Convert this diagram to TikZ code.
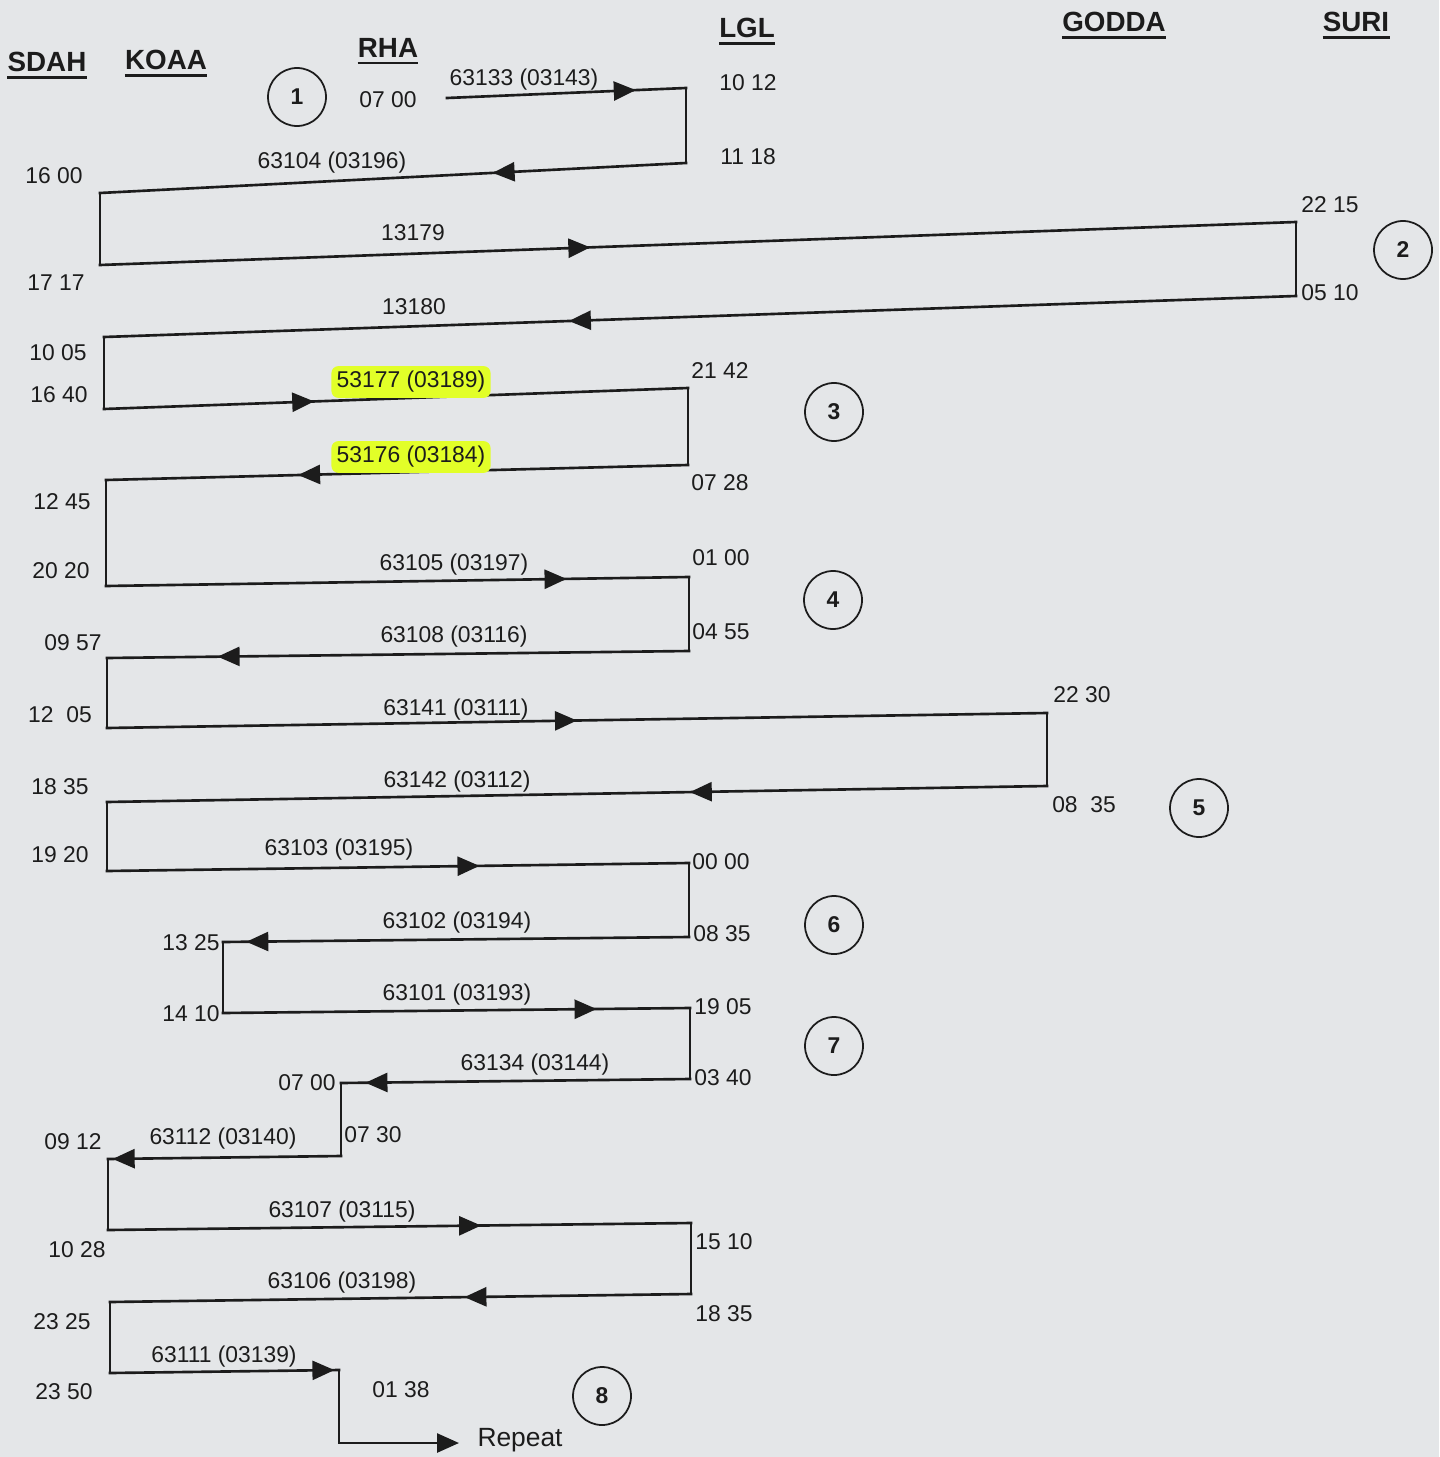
\documentclass[tikz,border=0pt]{standalone}
\usepackage{fontspec}
\setmainfont{Liberation Sans}
\usetikzlibrary{decorations.markings}
\usetikzlibrary{arrows.meta}

\definecolor{paper}{RGB}{228,230,232}
\definecolor{ink}{RGB}{28,28,28}
\definecolor{marker}{RGB}{226,255,40}

\begin{document}
\begin{tikzpicture}[x=0.2mm, y=-0.2mm]

% Define styles
\tikzset{
    trainline/.style={draw=ink, line width=1.5pt, line cap=rect, postaction={decorate}, decoration={markings}},
    arrow/.style={decoration={mark=at position #1 with {\arrow{Triangle[length=4.4mm, width=3.8mm]}}}},
    station/.style={font=\fontsize{15.8}{18}\selectfont\bfseries, text=ink, inner xsep=0pt, inner ysep=3pt,
        append after command={(\tikzlastnode.south west) edge[draw=ink, line width=1.5pt] (\tikzlastnode.south east)}},
    clock/.style={font=\fontsize{13}{15}\selectfont, text=ink, inner sep=1pt},
    trainno/.style={font=\fontsize{13}{15}\selectfont, text=ink, inner sep=1pt},
    marked/.style={trainno, fill=marker, rounded corners=4pt, inner xsep=3pt, inner ysep=3pt},
    rakeno/.style={circle, draw=ink, line width=1pt, minimum size=11.6mm, inner sep=0pt, font=\fontsize{13}{15}\selectfont\bfseries, text=ink}
}

% paper
\fill[paper] (0,0) rectangle (1439,1457);
\useasboundingbox (0,0) rectangle (1439,1457);

% stations
\node[station] (SDAH) at (47,62) {SDAH};
\node[station] (KOAA) at (166,60) {KOAA};
\node[station] (RHA) at (388,48) {RHA};
\node[station] (LGL) at (747,28) {LGL};
\node[station] (GODDA) at (1114,22) {GODDA};
\node[station] (SURI) at (1356,22) {SURI};

% corners of the link
\coordinate (start) at (447,98);
\coordinate (lgl1012) at (686,88);
\coordinate (lgl1118) at (686,163);
\coordinate (sdah1600) at (100,193);
\coordinate (sdah1717) at (100,265);
\coordinate (suri2215) at (1296,222);
\coordinate (suri0510) at (1296,296);
\coordinate (sdah1005) at (104,337);
\coordinate (sdah1640) at (104,409);
\coordinate (lgl2142) at (688,388);
\coordinate (lgl0728) at (688,465);
\coordinate (sdah1245) at (106,480);
\coordinate (sdah2020) at (106,586);
\coordinate (lgl0100) at (689,577);
\coordinate (lgl0455) at (689,651);
\coordinate (sdah0957) at (107,658);
\coordinate (sdah1205) at (107,728);
\coordinate (godda2230) at (1047,713);
\coordinate (godda0835) at (1047,786);
\coordinate (sdah1835) at (107,802);
\coordinate (sdah1920) at (107,871);
\coordinate (lgl0000) at (689,863);
\coordinate (lgl0835) at (689,937);
\coordinate (koaa1325) at (223,942);
\coordinate (koaa1410) at (223,1013);
\coordinate (lgl1905) at (690,1008);
\coordinate (lgl0340) at (690,1079);
\coordinate (mid0700) at (341,1083);
\coordinate (mid0730) at (341,1156);
\coordinate (sdah0912) at (108,1159);
\coordinate (sdah1028) at (108,1230);
\coordinate (lgl1510) at (691,1223);
\coordinate (lgl1835) at (691,1294);
\coordinate (sdah2325) at (110,1302);
\coordinate (sdah2350) at (110,1373);
\coordinate (rha0138) at (339,1370);
\coordinate (rhaturn) at (339,1443);
\coordinate (rptend) at (459,1443);

% trains
\draw[trainline, arrow=0.79] (start) -- (lgl1012);
\draw[trainline] (lgl1012) -- (lgl1118);
\draw[trainline, arrow=0.33] (lgl1118) -- (sdah1600);
\draw[trainline] (sdah1600) -- (sdah1717);
\draw[trainline, arrow=0.41] (sdah1717) -- (suri2215);
\draw[trainline] (suri2215) -- (suri0510);
\draw[trainline, arrow=0.61] (suri0510) -- (sdah1005);
\draw[trainline] (sdah1005) -- (sdah1640);
\draw[trainline, arrow=0.36] (sdah1640) -- (lgl2142);
\draw[trainline] (lgl2142) -- (lgl0728);
\draw[trainline, arrow=0.67] (lgl0728) -- (sdah1245);
\draw[trainline] (sdah1245) -- (sdah2020);
\draw[trainline, arrow=0.79] (sdah2020) -- (lgl0100);
\draw[trainline] (lgl0100) -- (lgl0455);
\draw[trainline, arrow=0.81] (lgl0455) -- (sdah0957);
\draw[trainline] (sdah0957) -- (sdah1205);
\draw[trainline, arrow=0.50] (sdah1205) -- (godda2230);
\draw[trainline] (godda2230) -- (godda0835);
\draw[trainline, arrow=0.38] (godda0835) -- (sdah1835);
\draw[trainline] (sdah1835) -- (sdah1920);
\draw[trainline, arrow=0.64] (sdah1920) -- (lgl0000);
\draw[trainline] (lgl0000) -- (lgl0835);
\draw[trainline, arrow=0.95] (lgl0835) -- (koaa1325);
\draw[trainline] (koaa1325) -- (koaa1410);
\draw[trainline, arrow=0.80] (koaa1410) -- (lgl1905);
\draw[trainline] (lgl1905) -- (lgl0340);
\draw[trainline, arrow=0.93] (lgl0340) -- (mid0700);
\draw[trainline] (mid0700) -- (mid0730);
\draw[trainline, arrow=0.98] (mid0730) -- (sdah0912);
\draw[trainline] (sdah0912) -- (sdah1028);
\draw[trainline, arrow=0.64] (sdah1028) -- (lgl1510);
\draw[trainline] (lgl1510) -- (lgl1835);
\draw[trainline, arrow=0.39] (lgl1835) -- (sdah2325);
\draw[trainline] (sdah2325) -- (sdah2350);
\draw[trainline, arrow=0.98] (sdah2350) -- (rha0138);
\draw[trainline] (rha0138) -- (rhaturn);
\draw[trainline, -{Triangle[length=4.4mm, width=3.8mm]}] (rhaturn) -- (rptend);

% train numbers
\node[trainno] (n63133) at (524,80) {63133 (03143)};
\node[trainno] (n63104) at (332,163) {63104 (03196)};
\node[trainno] (n13179) at (413,233) {13179};
\node[trainno] (n13180) at (414,307) {13180};
\node[marked] (n53177) at (411,382) {53177 (03189)};
\node[marked] (n53176) at (411,457) {53176 (03184)};
\node[trainno] (n63105) at (454,565) {63105 (03197)};
\node[trainno] (n63108) at (454,637) {63108 (03116)};
\node[trainno] (n63141) at (456,710) {63141 (03111)};
\node[trainno] (n63142) at (457,782) {63142 (03112)};
\node[trainno] (n63103) at (339,850) {63103 (03195)};
\node[trainno] (n63102) at (457,923) {63102 (03194)};
\node[trainno] (n63101) at (457,995) {63101 (03193)};
\node[trainno] (n63134) at (535,1065) {63134 (03144)};
\node[trainno] (n63112) at (223,1139) {63112 (03140)};
\node[trainno] (n63107) at (342,1212) {63107 (03115)};
\node[trainno] (n63106) at (342,1283) {63106 (03198)};
\node[trainno] (n63111) at (224,1357) {63111 (03139)};

% timings
\node[clock] (t0700a) at (388,100) {07 00};
\node[clock] (t1012) at (748,83) {10 12};
\node[clock] (t1118) at (748,157) {11 18};
\node[clock] (t1600) at (54,176) {16 00};
\node[clock] (t1717) at (56,283) {17 17};
\node[clock] (t2215) at (1330,205) {22 15};
\node[clock] (t0510) at (1330,293) {05 10};
\node[clock] (t1005) at (58,353) {10 05};
\node[clock] (t1640) at (59,395) {16 40};
\node[clock] (t2142) at (720,371) {21 42};
\node[clock] (t0728) at (720,483) {07 28};
\node[clock] (t1245) at (62,502) {12 45};
\node[clock] (t2020) at (61,571) {20 20};
\node[clock] (t0100) at (721,558) {01 00};
\node[clock] (t0455) at (721,632) {04 55};
\node[clock] (t0957) at (73,643) {09 57};
\node[clock] (t1205) at (60,715) {12\ \ 05};
\node[clock] (t2230) at (1082,695) {22 30};
\node[clock] (t1835a) at (60,787) {18 35};
\node[clock] (t0835a) at (1084,805) {08\ \ 35};
\node[clock] (t1920) at (60,855) {19 20};
\node[clock] (t0000) at (721,862) {00 00};
\node[clock] (t0835b) at (722,934) {08 35};
\node[clock] (t1325) at (191,943) {13 25};
\node[clock] (t1410) at (191,1014) {14 10};
\node[clock] (t1905) at (723,1007) {19 05};
\node[clock] (t0340) at (723,1078) {03 40};
\node[clock] (t0700b) at (307,1083) {07 00};
\node[clock] (t0730) at (373,1135) {07 30};
\node[clock] (t0912) at (73,1142) {09 12};
\node[clock] (t1028) at (77,1250) {10 28};
\node[clock] (t1510) at (724,1242) {15 10};
\node[clock] (t1835b) at (724,1314) {18 35};
\node[clock] (t2325) at (62,1322) {23 25};
\node[clock] (t2350) at (64,1392) {23 50};
\node[clock] (t0138) at (401,1390) {01 38};

% rake links
\node[rakeno] (rake1) at (297,97) {1};
\node[rakeno] (rake2) at (1403,250) {2};
\node[rakeno] (rake3) at (834,412) {3};
\node[rakeno] (rake4) at (833,600) {4};
\node[rakeno] (rake5) at (1199,808) {5};
\node[rakeno] (rake6) at (834,925) {6};
\node[rakeno] (rake7) at (834,1046) {7};
\node[rakeno] (rake8) at (602,1396) {8};

% repeat
\node[font=\fontsize{15}{17}\selectfont, text=ink, inner sep=1pt] (repeat) at (520,1440) {Repeat};

\end{tikzpicture}
\end{document}
